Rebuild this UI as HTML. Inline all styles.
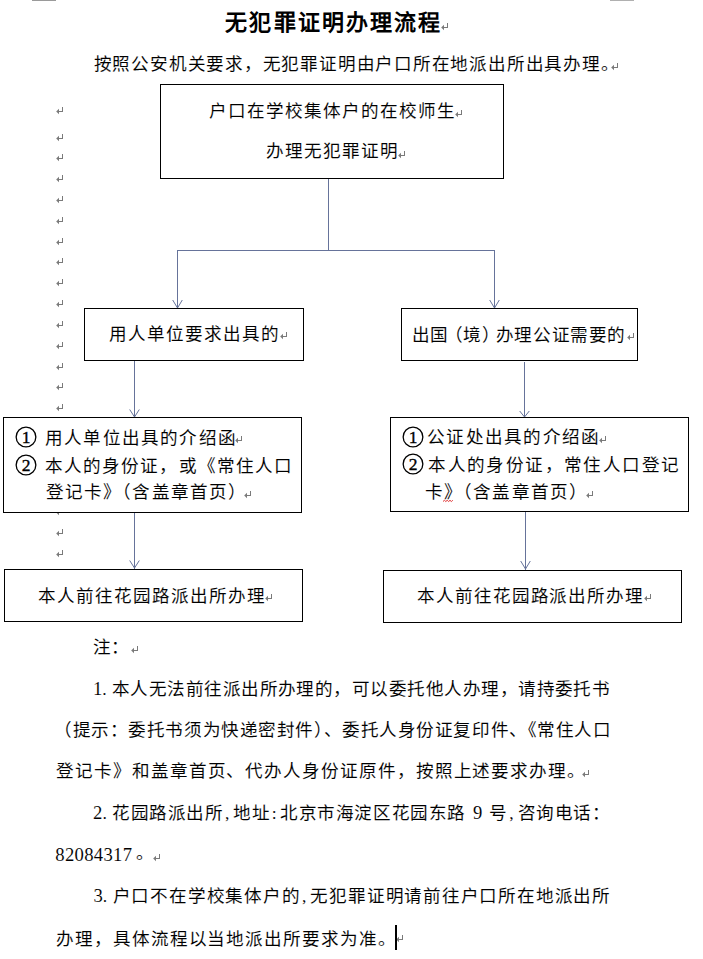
<!DOCTYPE html>
<html lang="zh-CN"><head><meta charset="utf-8"><title>无犯罪证明办理流程</title>
<style>
html,body{margin:0;padding:0;background:#fff;}
body{width:703px;height:959px;position:relative;overflow:hidden;font-family:"Liberation Serif",serif;color:#000;}
.t{position:absolute;white-space:nowrap;line-height:1;font-size:17.6px;margin:0;-webkit-text-stroke:0.08px #fff;}
.b{font-weight:bold;font-size:22px;-webkit-text-stroke:0;}
.bx{position:absolute;border:1px solid #000;background:#fff;}
.pm{position:absolute;overflow:visible;}
.pm path{stroke:#7a7a7a;stroke-width:1;fill:none;}
.pm path.ah{fill:#7a7a7a;stroke:none;}
.ci{position:absolute;overflow:visible;}
.ci circle{fill:none;stroke:#000;stroke-width:1.3;}
.ci text{font-family:"Liberation Serif",serif;font-size:17.5px;text-anchor:middle;fill:#000;stroke:#000;stroke-width:0.35;}
.cm{position:absolute;top:0;height:1px;}
svg.ln{position:absolute;left:0;top:0;}
svg.ln path{stroke:#66739a;stroke-width:1;fill:none;}
.cur{position:absolute;background:#000;}
.dg{font-size:18.67px;letter-spacing:0}.hd{margin-right:4.67px}.hc{margin-left:1.5px;margin-right:3.17px}.hk{margin-left:1.2px;margin-right:2.95px}.hs{margin-right:2px}
</style></head><body>

<div class="cm" style="left:32px;width:24px;background:#9a9a9a"></div>
<div class="cm" style="left:610px;width:24px;background:#b0b0b0"></div>
<svg class="pm" style="left:56px;top:107px" width="8" height="8" viewBox="0 0 8 8"><path d="M6.5 0V5M6.5 4.5H1.5"/><path class="ah" d="M0.2 4.5L3 1.7V7.3Z"/></svg>
<svg class="pm" style="left:56px;top:134px" width="8" height="8" viewBox="0 0 8 8"><path d="M6.5 0V5M6.5 4.5H1.5"/><path class="ah" d="M0.2 4.5L3 1.7V7.3Z"/></svg>
<svg class="pm" style="left:56px;top:154px" width="8" height="8" viewBox="0 0 8 8"><path d="M6.5 0V5M6.5 4.5H1.5"/><path class="ah" d="M0.2 4.5L3 1.7V7.3Z"/></svg>
<svg class="pm" style="left:56px;top:175px" width="8" height="8" viewBox="0 0 8 8"><path d="M6.5 0V5M6.5 4.5H1.5"/><path class="ah" d="M0.2 4.5L3 1.7V7.3Z"/></svg>
<svg class="pm" style="left:56px;top:196px" width="8" height="8" viewBox="0 0 8 8"><path d="M6.5 0V5M6.5 4.5H1.5"/><path class="ah" d="M0.2 4.5L3 1.7V7.3Z"/></svg>
<svg class="pm" style="left:56px;top:217px" width="8" height="8" viewBox="0 0 8 8"><path d="M6.5 0V5M6.5 4.5H1.5"/><path class="ah" d="M0.2 4.5L3 1.7V7.3Z"/></svg>
<svg class="pm" style="left:56px;top:238px" width="8" height="8" viewBox="0 0 8 8"><path d="M6.5 0V5M6.5 4.5H1.5"/><path class="ah" d="M0.2 4.5L3 1.7V7.3Z"/></svg>
<svg class="pm" style="left:56px;top:258px" width="8" height="8" viewBox="0 0 8 8"><path d="M6.5 0V5M6.5 4.5H1.5"/><path class="ah" d="M0.2 4.5L3 1.7V7.3Z"/></svg>
<svg class="pm" style="left:56px;top:279px" width="8" height="8" viewBox="0 0 8 8"><path d="M6.5 0V5M6.5 4.5H1.5"/><path class="ah" d="M0.2 4.5L3 1.7V7.3Z"/></svg>
<svg class="pm" style="left:56px;top:300px" width="8" height="8" viewBox="0 0 8 8"><path d="M6.5 0V5M6.5 4.5H1.5"/><path class="ah" d="M0.2 4.5L3 1.7V7.3Z"/></svg>
<svg class="pm" style="left:56px;top:321px" width="8" height="8" viewBox="0 0 8 8"><path d="M6.5 0V5M6.5 4.5H1.5"/><path class="ah" d="M0.2 4.5L3 1.7V7.3Z"/></svg>
<svg class="pm" style="left:56px;top:342px" width="8" height="8" viewBox="0 0 8 8"><path d="M6.5 0V5M6.5 4.5H1.5"/><path class="ah" d="M0.2 4.5L3 1.7V7.3Z"/></svg>
<svg class="pm" style="left:56px;top:363px" width="8" height="8" viewBox="0 0 8 8"><path d="M6.5 0V5M6.5 4.5H1.5"/><path class="ah" d="M0.2 4.5L3 1.7V7.3Z"/></svg>
<svg class="pm" style="left:56px;top:383px" width="8" height="8" viewBox="0 0 8 8"><path d="M6.5 0V5M6.5 4.5H1.5"/><path class="ah" d="M0.2 4.5L3 1.7V7.3Z"/></svg>
<svg class="pm" style="left:56px;top:404px" width="8" height="8" viewBox="0 0 8 8"><path d="M6.5 0V5M6.5 4.5H1.5"/><path class="ah" d="M0.2 4.5L3 1.7V7.3Z"/></svg>
<svg class="pm" style="left:56px;top:425px" width="8" height="8" viewBox="0 0 8 8"><path d="M6.5 0V5M6.5 4.5H1.5"/><path class="ah" d="M0.2 4.5L3 1.7V7.3Z"/></svg>
<svg class="pm" style="left:56px;top:446px" width="8" height="8" viewBox="0 0 8 8"><path d="M6.5 0V5M6.5 4.5H1.5"/><path class="ah" d="M0.2 4.5L3 1.7V7.3Z"/></svg>
<svg class="pm" style="left:56px;top:467px" width="8" height="8" viewBox="0 0 8 8"><path d="M6.5 0V5M6.5 4.5H1.5"/><path class="ah" d="M0.2 4.5L3 1.7V7.3Z"/></svg>
<svg class="pm" style="left:56px;top:488px" width="8" height="8" viewBox="0 0 8 8"><path d="M6.5 0V5M6.5 4.5H1.5"/><path class="ah" d="M0.2 4.5L3 1.7V7.3Z"/></svg>
<svg class="pm" style="left:56px;top:508px" width="8" height="8" viewBox="0 0 8 8"><path d="M6.5 0V5M6.5 4.5H1.5"/><path class="ah" d="M0.2 4.5L3 1.7V7.3Z"/></svg>
<svg class="pm" style="left:56px;top:529px" width="8" height="8" viewBox="0 0 8 8"><path d="M6.5 0V5M6.5 4.5H1.5"/><path class="ah" d="M0.2 4.5L3 1.7V7.3Z"/></svg>
<svg class="pm" style="left:56px;top:550px" width="8" height="8" viewBox="0 0 8 8"><path d="M6.5 0V5M6.5 4.5H1.5"/><path class="ah" d="M0.2 4.5L3 1.7V7.3Z"/></svg>
<svg class="ln" width="703" height="959"><path d="M328.5 179V250.5 M177 250.5H495 M177.5 250V308 M172.7 300L177.5 308L182.3 300 M494.5 250V308 M489.7 300L494.5 308L499.3 300 M134.5 361V417 M129.7 409.5L134.5 417L139.3 409.5 M524.5 362V417 M519.7 411L524.5 417L529.3 411 M134.5 512V569 M129.7 560.5L134.5 568L139.3 560.5 M525.5 512V570 M520.7 561L525.5 569L530.3 561"/></svg>
<div class="bx" style="left:160px;top:84px;width:342px;height:93px"></div>
<div class="bx" style="left:84px;top:308px;width:218px;height:51px"></div>
<div class="bx" style="left:401px;top:308px;width:235px;height:51px"></div>
<div class="bx" style="left:3px;top:417px;width:297px;height:94px"></div>
<div class="bx" style="left:390px;top:417px;width:297px;height:93px"></div>
<div class="bx" style="left:4px;top:569px;width:297px;height:51px"></div>
<div class="bx" style="left:383px;top:570px;width:297px;height:51px"></div>
<svg class="ci" style="left:13.60px;top:425.00px" width="24" height="24" viewBox="0 0 24 24"><circle cx="12" cy="12" r="9.85"/><text x="12" y="17.6">1</text></svg>
<svg class="ci" style="left:13.60px;top:452.60px" width="24" height="24" viewBox="0 0 24 24"><circle cx="12" cy="12" r="9.85"/><text x="12" y="17.6">2</text></svg>
<svg class="ci" style="left:400.60px;top:424.90px" width="24" height="24" viewBox="0 0 24 24"><circle cx="12" cy="12" r="9.85"/><text x="12" y="17.6">1</text></svg>
<svg class="ci" style="left:400.60px;top:452.30px" width="24" height="24" viewBox="0 0 24 24"><circle cx="12" cy="12" r="9.85"/><text x="12" y="17.6">2</text></svg>
<p class="t b" id="t1" style="left:225.30px;top:12.30px;letter-spacing:2.110px">无犯罪证明办理流程</p>
<p class="t" id="t2" style="left:93.70px;top:55.60px;letter-spacing:0.775px">按照公安机关要求，无犯罪证明由户口所在地派出所出具办理。</p>
<p class="t" id="b1a" style="left:208.60px;top:103.10px;letter-spacing:1.003px">户口在学校集体户的在校师生</p>
<p class="t" id="b1b" style="left:265.70px;top:143.30px;letter-spacing:1.000px">办理无犯罪证明</p>
<p class="t" id="b2" style="left:109.00px;top:326.30px;letter-spacing:1.000px">用人单位要求出具的</p>
<p class="t" id="b3" style="left:411.50px;top:326.80px;letter-spacing:0.630px">出国<span style="margin-left:-4px">（</span>境<span style="margin-right:-5px">）</span>办理公证需要的</p>
<p class="t" id="b4a" style="left:44.90px;top:430.00px;letter-spacing:1.210px">用人单位出具的介绍函</p>
<p class="t" id="b4b" style="left:44.90px;top:457.70px;letter-spacing:1.090px">本人的身份证，或《常住人口</p>
<p class="t" id="b4c" style="left:45.50px;top:483.80px;letter-spacing:1.200px">登记卡》（含盖章首页）</p>
<p class="t" id="b5a" style="left:427.10px;top:429.10px;letter-spacing:1.265px">公证处出具的介绍函</p>
<p class="t" id="b5b" style="left:428.10px;top:456.80px;letter-spacing:1.416px">本人的身份证，常住人口登记</p>
<p class="t" id="b5c" style="left:424.90px;top:483.50px;letter-spacing:1.125px">卡》（含盖章首页）</p>
<p class="t" id="b6" style="left:38.20px;top:587.60px;letter-spacing:0.999px">本人前往花园路派出所办理</p>
<p class="t" id="b7" style="left:417.10px;top:587.60px;letter-spacing:0.906px">本人前往花园路派出所办理</p>
<p class="t" id="n1" style="left:93.00px;top:638.50px">注：</p>
<p class="t" id="n2" style="left:93.00px;top:680.10px;letter-spacing:0.464px"><span class="dg">1</span><span class="hd">.</span>本人无法前往派出所办理的，可以委托他人办理，请持委托书</p>
<p class="t" id="n3" style="left:54.00px;top:722.00px;letter-spacing:0.567px">（提示：委托书须为快递密封件）、委托人身份证复印件、《常住人口</p>
<p class="t" id="n4" style="left:56.10px;top:762.80px;letter-spacing:0.926px">登记卡》和盖章首页、代办人身份证原件，按照上述要求办理。</p>
<p class="t" id="n5" style="left:93.10px;top:804.30px;letter-spacing:0.586px"><span class="dg">2</span><span class="hd">.</span>花园路派出所<span class="hc">,</span>地址<span class="hk">:</span>北京市海淀区花园东路<span class="hs"> </span><span class="dg">9</span><span class="hs"> </span>号<span class="hc">,</span>咨询电话：</p>
<p class="t" id="n6" style="left:55.30px;top:846.30px"><span class="dg" style="letter-spacing:0.3px">82084317</span><span style="margin-left:3.5px;position:relative;top:-2.5px">。</span></p>
<p class="t" id="n7" style="left:93.50px;top:886.80px;letter-spacing:0.786px"><span class="dg">3</span><span class="hd">.</span>户口不在学校集体户的<span class="hc">,</span>无犯罪证明请前往户口所在地派出所</p>
<p class="t" id="n8" style="left:56.00px;top:931.40px;letter-spacing:0.930px">办理，具体流程以当地派出所要求为准。</p>
<svg class="pm" style="left:441px;top:22.5px" width="8" height="8" viewBox="0 0 8 8"><path d="M6.5 0V5M6.5 4.5H1.5"/><path class="ah" d="M0.2 4.5L3 1.7V7.3Z"/></svg>
<svg class="pm" style="left:611px;top:62.5px" width="8" height="8" viewBox="0 0 8 8"><path d="M6.5 0V5M6.5 4.5H1.5"/><path class="ah" d="M0.2 4.5L3 1.7V7.3Z"/></svg>
<svg class="pm" style="left:455px;top:110px" width="8" height="8" viewBox="0 0 8 8"><path d="M6.5 0V5M6.5 4.5H1.5"/><path class="ah" d="M0.2 4.5L3 1.7V7.3Z"/></svg>
<svg class="pm" style="left:398px;top:150.5px" width="8" height="8" viewBox="0 0 8 8"><path d="M6.5 0V5M6.5 4.5H1.5"/><path class="ah" d="M0.2 4.5L3 1.7V7.3Z"/></svg>
<svg class="pm" style="left:279.5px;top:332px" width="8" height="8" viewBox="0 0 8 8"><path d="M6.5 0V5M6.5 4.5H1.5"/><path class="ah" d="M0.2 4.5L3 1.7V7.3Z"/></svg>
<svg class="pm" style="left:627px;top:333px" width="8" height="8" viewBox="0 0 8 8"><path d="M6.5 0V5M6.5 4.5H1.5"/><path class="ah" d="M0.2 4.5L3 1.7V7.3Z"/></svg>
<svg class="pm" style="left:235px;top:435.5px" width="8" height="8" viewBox="0 0 8 8"><path d="M6.5 0V5M6.5 4.5H1.5"/><path class="ah" d="M0.2 4.5L3 1.7V7.3Z"/></svg>
<svg class="pm" style="left:243.5px;top:491px" width="8" height="8" viewBox="0 0 8 8"><path d="M6.5 0V5M6.5 4.5H1.5"/><path class="ah" d="M0.2 4.5L3 1.7V7.3Z"/></svg>
<svg class="pm" style="left:599px;top:436px" width="8" height="8" viewBox="0 0 8 8"><path d="M6.5 0V5M6.5 4.5H1.5"/><path class="ah" d="M0.2 4.5L3 1.7V7.3Z"/></svg>
<svg class="pm" style="left:586px;top:491px" width="8" height="8" viewBox="0 0 8 8"><path d="M6.5 0V5M6.5 4.5H1.5"/><path class="ah" d="M0.2 4.5L3 1.7V7.3Z"/></svg>
<svg class="pm" style="left:265px;top:594px" width="8" height="8" viewBox="0 0 8 8"><path d="M6.5 0V5M6.5 4.5H1.5"/><path class="ah" d="M0.2 4.5L3 1.7V7.3Z"/></svg>
<svg class="pm" style="left:644px;top:594px" width="8" height="8" viewBox="0 0 8 8"><path d="M6.5 0V5M6.5 4.5H1.5"/><path class="ah" d="M0.2 4.5L3 1.7V7.3Z"/></svg>
<svg class="pm" style="left:131px;top:645.5px" width="8" height="8" viewBox="0 0 8 8"><path d="M6.5 0V5M6.5 4.5H1.5"/><path class="ah" d="M0.2 4.5L3 1.7V7.3Z"/></svg>
<svg class="pm" style="left:582px;top:770px" width="8" height="8" viewBox="0 0 8 8"><path d="M6.5 0V5M6.5 4.5H1.5"/><path class="ah" d="M0.2 4.5L3 1.7V7.3Z"/></svg>
<svg class="pm" style="left:152.5px;top:853.5px" width="8" height="8" viewBox="0 0 8 8"><path d="M6.5 0V5M6.5 4.5H1.5"/><path class="ah" d="M0.2 4.5L3 1.7V7.3Z"/></svg>
<svg class="pm" style="left:395.5px;top:935px" width="8" height="8" viewBox="0 0 8 8"><path d="M6.5 0V5M6.5 4.5H1.5"/><path class="ah" d="M0.2 4.5L3 1.7V7.3Z"/></svg>
<svg class="ln" width="703" height="959" style="z-index:2"><path d="M443 501.5l1.4-1.2l1.4 1.2l1.4-1.2l1.4 1.2l1.4-1.2l1.4 1.2l1.4-1.2" style="stroke:#e03030"/></svg>
<div class="cur" style="left:395px;top:925px;width:2px;height:25px"></div>
</body></html>
